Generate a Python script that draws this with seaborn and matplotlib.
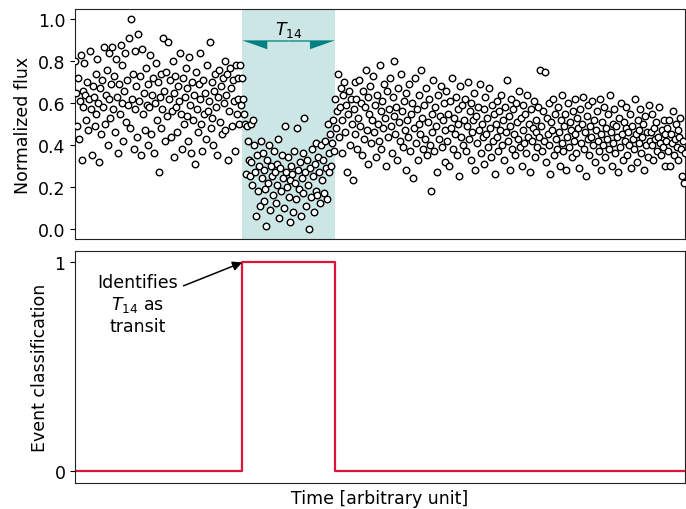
import matplotlib

matplotlib.use("Agg", force=True)
import matplotlib.pyplot as plt
import numpy as np
import seaborn as sns

flux_pre = [
    0.80, 0.65, 0.49, 0.72, 0.43, 0.61, 0.83, 0.33, 0.66, 0.58, 0.79, 0.64, 0.52, 0.70, 0.47, 0.62, 0.85, 0.57, 0.35, 0.68,
    0.63, 0.49, 0.74, 0.55, 0.81, 0.60, 0.32, 0.67, 0.45, 0.71, 0.58, 0.87, 0.50, 0.64, 0.76, 0.40, 0.62, 0.84, 0.53, 0.69,
    0.87, 0.57, 0.73, 0.46, 0.81, 0.63, 0.36, 0.69, 0.55, 0.88, 0.60, 0.78, 0.42, 0.66, 0.84, 0.51, 0.71, 0.59, 0.91, 0.48,
    1.00, 0.62, 0.74, 0.38, 0.85, 0.57, 0.68, 0.44, 0.93, 0.61, 0.73, 0.35, 0.86, 0.55, 0.65, 0.47, 0.77, 0.59, 0.40, 0.69,
    0.58, 0.83, 0.45, 0.64, 0.72, 0.36, 0.60, 0.79, 0.52, 0.70, 0.27, 0.63, 0.74, 0.48, 0.57, 0.91, 0.66, 0.42, 0.75, 0.54,
    0.89, 0.62, 0.71, 0.44, 0.56, 0.80, 0.65, 0.34, 0.73, 0.58, 0.46, 0.68, 0.61, 0.84, 0.55, 0.38, 0.72, 0.50, 0.63, 0.77,
    0.54, 0.67, 0.42, 0.82, 0.59, 0.36, 0.70, 0.52, 0.64, 0.31, 0.75, 0.57, 0.46, 0.69, 0.62, 0.84, 0.50, 0.37, 0.71, 0.55,
    0.65, 0.43, 0.78, 0.56, 0.61, 0.89, 0.48, 0.70, 0.53, 0.40, 0.66, 0.74, 0.58, 0.35, 0.63, 0.76, 0.51, 0.68, 0.45, 0.72,
    0.60, 0.80, 0.47, 0.64, 0.74, 0.33, 0.56, 0.77, 0.67, 0.49, 0.71, 0.61, 0.37, 0.78, 0.55, 0.72, 0.62, 0.50, 0.78, 0.59,
]
flux_transit = [
    0.72, 0.62, 0.55, 0.50, 0.26, 0.49, 0.42, 0.33, 0.25, 0.50, 0.32, 0.21, 0.52, 0.40, 0.27, 0.06, 0.35, 0.18, 0.30, 0.11,
    0.42, 0.24, 0.36, 0.13, 0.28, 0.19, 0.01, 0.33, 0.22, 0.40, 0.09, 0.30, 0.25, 0.16, 0.37, 0.27, 0.12, 0.31, 0.21, 0.43,
    0.05, 0.29, 0.18, 0.35, 0.24, 0.10, 0.49, 0.27, 0.20, 0.34, 0.15, 0.23, 0.03, 0.30, 0.26, 0.08, 0.37, 0.22, 0.14, 0.48,
    0.28, 0.19, 0.32, 0.06, 0.24, 0.36, 0.17, 0.53, 0.27, 0.11, 0.33, 0.21, 0.00, 0.29, 0.15, 0.38, 0.25, 0.08, 0.31, 0.18,
    0.41, 0.16, 0.34, 0.27, 0.12, 0.40, 0.23, 0.33, 0.17, 0.42, 0.29, 0.14, 0.50, 0.36, 0.27, 0.45, 0.30, 0.41, 0.52, 0.37,
]
flux_post = [
    0.62, 0.48, 0.56, 0.74, 0.44, 0.58, 0.67, 0.36, 0.52, 0.64, 0.70, 0.46, 0.59, 0.27, 0.55, 0.66, 0.40, 0.62, 0.50, 0.23,
    0.57, 0.70, 0.45, 0.62, 0.38, 0.53, 0.71, 0.49, 0.60, 0.35, 0.66, 0.43, 0.58, 0.76, 0.47, 0.63, 0.31, 0.55, 0.68, 0.41,
    0.52, 0.73, 0.46, 0.59, 0.34, 0.64, 0.50, 0.42, 0.78, 0.56, 0.38, 0.61, 0.48, 0.69, 0.53, 0.30, 0.66, 0.44, 0.57, 0.72,
    0.49, 0.36, 0.63, 0.54, 0.80, 0.45, 0.58, 0.33, 0.67, 0.51, 0.42, 0.74, 0.56, 0.39, 0.61, 0.47, 0.28, 0.65, 0.52, 0.44,
    0.69, 0.37, 0.55, 0.60, 0.24, 0.48, 0.72, 0.41, 0.57, 0.33, 0.64, 0.50, 0.45, 0.76, 0.53, 0.38, 0.59, 0.43, 0.67, 0.35,
    0.51, 0.62, 0.40, 0.18, 0.55, 0.46, 0.71, 0.37, 0.58, 0.49, 0.27, 0.64, 0.43, 0.54, 0.68, 0.39, 0.52, 0.60, 0.32, 0.47,
    0.66, 0.42, 0.55, 0.30, 0.61, 0.48, 0.72, 0.38, 0.53, 0.45, 0.63, 0.35, 0.57, 0.50, 0.25, 0.68, 0.44, 0.59, 0.40, 0.52,
    0.62, 0.37, 0.49, 0.70, 0.43, 0.56, 0.33, 0.60, 0.46, 0.52, 0.65, 0.28, 0.54, 0.41, 0.58, 0.47, 0.69, 0.36, 0.50, 0.44,
    0.57, 0.31, 0.63, 0.45, 0.53, 0.39, 0.67, 0.48, 0.34, 0.59, 0.42, 0.55, 0.26, 0.50, 0.61, 0.44, 0.37, 0.56, 0.47, 0.64,
    0.40, 0.52, 0.33, 0.58, 0.46, 0.71, 0.42, 0.54, 0.28, 0.49, 0.62, 0.38, 0.57, 0.45, 0.35, 0.60, 0.51, 0.43, 0.66, 0.39,
    0.53, 0.30, 0.47, 0.59, 0.41, 0.55, 0.36, 0.64, 0.44, 0.50, 0.27, 0.57, 0.42, 0.48, 0.61, 0.34, 0.52, 0.46, 0.39, 0.58,
    0.44, 0.76, 0.49, 0.37, 0.56, 0.42, 0.75, 0.32, 0.53, 0.45, 0.60, 0.40, 0.26, 0.51, 0.47, 0.62, 0.35, 0.55, 0.43, 0.38,
    0.58, 0.46, 0.30, 0.52, 0.41, 0.64, 0.37, 0.49, 0.55, 0.28, 0.44, 0.60, 0.39, 0.51, 0.47, 0.34, 0.56, 0.42, 0.62, 0.45,
    0.36, 0.53, 0.48, 0.29, 0.57, 0.41, 0.50, 0.63, 0.38, 0.46, 0.25, 0.54, 0.43, 0.59, 0.35, 0.49, 0.44, 0.61, 0.40, 0.52,
    0.32, 0.47, 0.56, 0.42, 0.37, 0.62, 0.45, 0.28, 0.51, 0.40, 0.58, 0.34, 0.48, 0.43, 0.55, 0.38, 0.64, 0.46, 0.30, 0.50,
    0.41, 0.57, 0.36, 0.49, 0.44, 0.27, 0.53, 0.39, 0.60, 0.45, 0.33, 0.51, 0.42, 0.48, 0.58, 0.35, 0.46, 0.40, 0.55, 0.29,
    0.49, 0.43, 0.38, 0.62, 0.45, 0.32, 0.52, 0.41, 0.47, 0.57, 0.36, 0.44, 0.50, 0.28, 0.54, 0.40, 0.46, 0.34, 0.59, 0.42,
    0.46, 0.40, 0.55, 0.33, 0.48, 0.43, 0.51, 0.37, 0.44, 0.58, 0.41, 0.35, 0.47, 0.39, 0.52, 0.30, 0.45, 0.42,
    0.48, 0.37, 0.52, 0.30, 0.45, 0.41, 0.56, 0.35, 0.43, 0.50, 0.39, 0.47, 0.33, 0.44, 0.53, 0.38, 0.25, 0.42, 0.22, 0.36,
]

# transit window (ingress / egress) and the classifier output
t_ingress = 180
t_egress = 280
class_time = [0, t_ingress, t_ingress, t_egress, t_egress]
class_label = [0, 0, 1, 1, 0]

flux = np.array(flux_pre + flux_transit + flux_post)
time = np.arange(len(flux))
t_end = time[-1]

TEAL = "#008080"
RED = "#dc143c"
FS = 12.5

sns.set_style("ticks")
plt.rcParams["font.family"] = ["DejaVu Sans"]
plt.rcParams["text.color"] = "black"
plt.rcParams["axes.labelcolor"] = "black"
plt.rcParams["xtick.color"] = "black"
plt.rcParams["ytick.color"] = "black"
plt.rcParams["axes.edgecolor"] = "#222222"

fig = plt.figure(figsize=(6.86, 5.10), dpi=100)
ax1 = fig.add_axes([0.1095, 0.5294, 0.889, 0.451])
ax2 = fig.add_axes([0.1095, 0.0510, 0.889, 0.455])

# --- light curve
ax1.axvspan(t_ingress, t_egress, color=TEAL, alpha=0.2, lw=0, zorder=0)
sns.scatterplot(x=time, y=flux, ax=ax1, color="white", edgecolor="black",
                s=22, linewidth=1.0, zorder=3)
mid = (t_ingress + t_egress) / 2
# half-headed arrows with the heads hanging below the line
for dx, shape in [(t_ingress - mid, "right"), (t_egress - mid, "left")]:
    ax1.arrow(mid, 0.90, dx, 0, width=0.012, head_width=0.085, head_length=27,
              shape=shape, length_includes_head=True, color=TEAL, lw=0, zorder=4)
ax1.text(mid, 0.905, "$T_{14}$", ha="center", va="bottom", fontsize=FS)
ax1.set_xlim(0, t_end)
ax1.set_ylim(-0.05, 1.05)
ax1.set_yticks([0.0, 0.2, 0.4, 0.6, 0.8, 1.0])
ax1.set_xticks([])
ax1.set_ylabel("Normalized flux", fontsize=FS)
ax1.tick_params(labelsize=FS)

# --- classification
sns.lineplot(x=class_time + [t_end], y=class_label + [0], ax=ax2, sort=False,
             estimator=None, color=RED, lw=1.6)
ax2.annotate("Identifies\n$T_{14}$ as\ntransit", xy=(t_ingress, 1.0),
             xytext=(67, 0.80), ha="center", va="center", fontsize=FS,
             arrowprops=dict(arrowstyle="-|>", color="black", lw=1.1,
                             shrinkA=2, shrinkB=0, mutation_scale=14),
             )
ax2.set_xlim(0, t_end)
ax2.set_ylim(-0.055, 1.055)
ax2.set_yticks([0, 1])
ax2.set_xticks([])
ax2.set_ylabel("Event classification", fontsize=FS)
ax2.set_xlabel("Time [arbitrary unit]", fontsize=FS)
ax2.tick_params(labelsize=FS)

fig.savefig("out.png", dpi=100)
plt.close(fig)
